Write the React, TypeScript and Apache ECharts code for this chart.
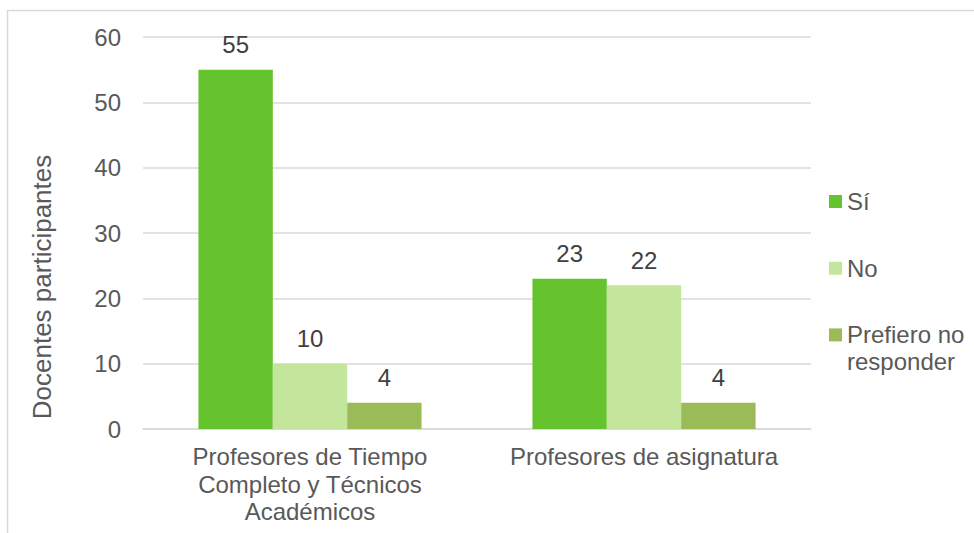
import React, { useEffect, useRef } from "react";
import * as echarts from "echarts";

const categories = [
  "Profesores de Tiempo\nCompleto y Técnicos\nAcadémicos",
  "Profesores de asignatura",
];
const seriesNames = ["Sí", "No", "Prefiero no responder"];
const legendLabels = ["Sí", "No", "Prefiero no\nresponder"];
const siValues = [55, 23];
const noValues = [10, 22];
const prefieroValues = [4, 4];
const colors = ["#65c32e", "#c3e59c", "#9bbb59"];
const yAxisTitle = "Docentes participantes";

export default function App() {
  const ref = useRef<HTMLDivElement>(null);
  useEffect(() => {
    if (!ref.current) return;
    const chart = echarts.init(ref.current, undefined, { renderer: "svg" });
    const font = "Liberation Sans, Arial, sans-serif";
    const values = [siValues, noValues, prefieroValues];
    chart.setOption({
      animation: false,
      textStyle: { fontFamily: font },
      graphic: [
        {
          type: "rect",
          shape: { x: 7.5, y: 10.5, width: 1000, height: 600 },
          style: { fill: "none", stroke: "#d9d9d9", lineWidth: 1.5 },
          silent: true,
        },
        {
          type: "text",
          x: 42,
          y: 287,
          rotation: Math.PI / 2,
          style: {
            text: yAxisTitle,
            fontSize: 26,
            fontFamily: font,
            fill: "#595959",
            align: "center",
            verticalAlign: "middle",
          },
          silent: true,
        },
      ],
      grid: { left: 143, right: 163, top: 37, bottom: 104 },
      legend: {
        orient: "vertical",
        left: 829,
        top: 161,
        padding: 0,
        itemWidth: 13,
        itemHeight: 13,
        itemGap: -14.3,
        icon: "rect",
        textStyle: { fontSize: 24, color: "#595959", fontFamily: font, lineHeight: 27 },
        data: seriesNames,
        formatter: (name: string) => {
          const i = seriesNames.indexOf(name);
          const label = legendLabels[i];
          // every entry is a three-line block whose middle line sits level with the icon
          return label.indexOf("\n") >= 0 ? "\n" + label : "\n" + label + "\n";
        },
      },
      xAxis: {
        type: "category",
        data: categories,
        axisLine: { lineStyle: { color: "#d9d9d9", width: 1.5 } },
        axisTick: { show: false },
        axisLabel: {
          fontSize: 24,
          color: "#595959",
          lineHeight: 27.5,
          margin: 14,
          interval: 0,
          fontFamily: font,
        },
      },
      yAxis: {
        type: "value",
        min: 0,
        max: 60,
        interval: 10,
        axisLine: { show: false },
        axisTick: { show: false },
        splitLine: { lineStyle: { color: "#d9d9d9", width: 1.5 } },
        axisLabel: { fontSize: 24, color: "#595959", margin: 22, fontFamily: font },
      },
      series: seriesNames.map((name, i) => ({
        name,
        type: "bar",
        data: values[i],
        barGap: "0%",
        barCategoryGap: "33.2%",
        itemStyle: { color: colors[i] },
        label: {
          show: true,
          position: "top",
          distance: 13,
          fontSize: 24,
          color: "#404040",
          fontFamily: font,
        },
      })),
    });
    return () => chart.dispose();
  }, []);
  return (
    <div
      ref={ref}
      style={{ position: "absolute", left: 0, top: 0, width: 974, height: 533, background: "#fff" }}
    />
  );
}
